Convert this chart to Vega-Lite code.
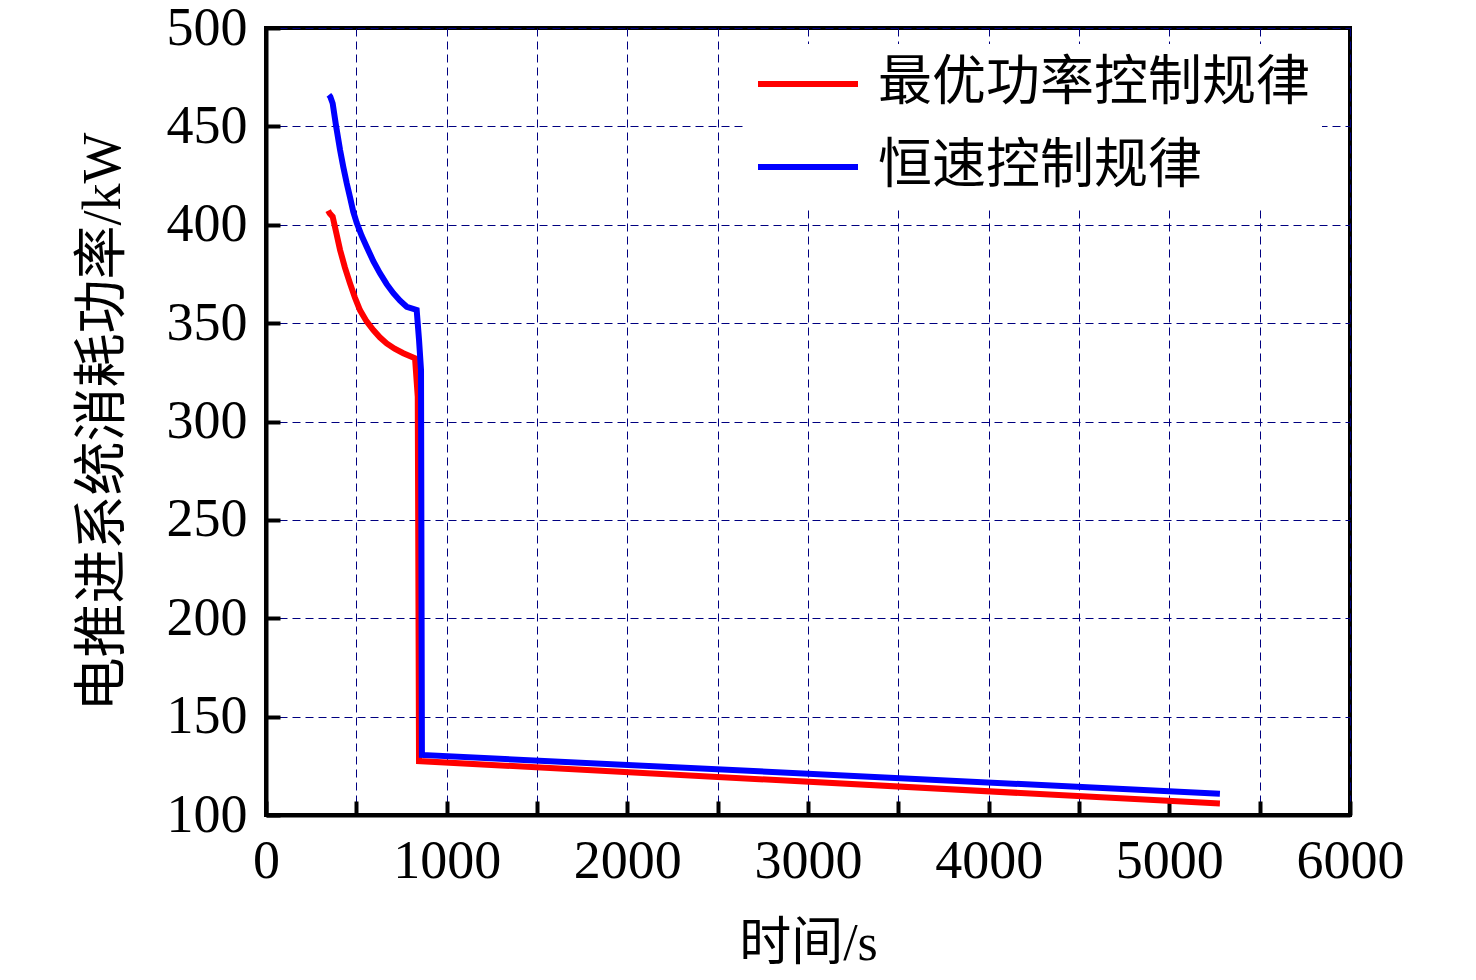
{
  "$schema": "https://vega.github.io/schema/vega-lite/v6.json",
  "width": 1084,
  "height": 787,
  "autosize": "none",
  "padding": {"left": 266, "top": 28, "right": 126, "bottom": 165},
  "background": "white",
  "data": {
    "values": [
      {"series": "最优功率控制规律", "t": 344, "p": 407.2},
      {"series": "最优功率控制规律", "t": 352, "p": 405.8},
      {"series": "最优功率控制规律", "t": 369, "p": 404.1},
      {"series": "最优功率控制规律", "t": 390, "p": 395.5},
      {"series": "最优功率控制规律", "t": 410, "p": 387.2},
      {"series": "最优功率控制规律", "t": 437, "p": 378.2},
      {"series": "最优功率控制规律", "t": 465, "p": 370.2},
      {"series": "最优功率控制规律", "t": 492, "p": 363},
      {"series": "最优功率控制规律", "t": 520, "p": 356.6},
      {"series": "最优功率控制规律", "t": 556, "p": 351},
      {"series": "最优功率控制规律", "t": 594, "p": 346.5},
      {"series": "最优功率控制规律", "t": 630, "p": 342.8},
      {"series": "最优功率控制规律", "t": 668, "p": 339.7},
      {"series": "最优功率控制规律", "t": 712, "p": 337},
      {"series": "最优功率控制规律", "t": 760, "p": 334.7},
      {"series": "最优功率控制规律", "t": 825, "p": 332.1},
      {"series": "最优功率控制规律", "t": 840, "p": 312.6},
      {"series": "最优功率控制规律", "t": 847, "p": 127.4},
      {"series": "最优功率控制规律", "t": 5280, "p": 105.8},
      {"series": "恒速控制规律", "t": 348, "p": 466},
      {"series": "恒速控制规律", "t": 356, "p": 465.1},
      {"series": "恒速控制规律", "t": 369, "p": 461.7},
      {"series": "恒速控制规律", "t": 387, "p": 450.7},
      {"series": "恒速控制规律", "t": 410, "p": 438},
      {"series": "恒速控制规律", "t": 428, "p": 429.3},
      {"series": "恒速控制规律", "t": 447, "p": 421},
      {"series": "恒速控制规律", "t": 465, "p": 414},
      {"series": "恒速控制规律", "t": 483, "p": 406.6},
      {"series": "恒速控制规律", "t": 502, "p": 401},
      {"series": "恒速控制规律", "t": 530, "p": 394.3},
      {"series": "恒速控制规律", "t": 557, "p": 388.8},
      {"series": "恒速控制规律", "t": 594, "p": 381.5},
      {"series": "恒速控制规律", "t": 631, "p": 375.3},
      {"series": "恒速控制规律", "t": 668, "p": 369.8},
      {"series": "恒速控制规律", "t": 705, "p": 365.2},
      {"series": "恒速控制规律", "t": 742, "p": 361.4},
      {"series": "恒速控制规律", "t": 779, "p": 358.3},
      {"series": "恒速控制规律", "t": 834, "p": 356.7},
      {"series": "恒速控制规律", "t": 847, "p": 341.5},
      {"series": "恒速控制规律", "t": 858, "p": 326.2},
      {"series": "恒速控制规律", "t": 863, "p": 130.5},
      {"series": "恒速控制规律", "t": 5280, "p": 110.8}
    ]
  },
  "mark": {"type": "line", "strokeWidth": 6, "strokeJoin": "miter"},
  "encoding": {
    "x": {
      "field": "t",
      "type": "quantitative",
      "title": "时间/s",
      "scale": {"domain": [0, 6000], "nice": false, "zero": false},
      "axis": {
        "values": [0, 500, 1000, 1500, 2000, 2500, 3000, 3500, 4000, 4500, 5000, 5500, 6000],
        "labelExpr": "datum.value % 1000 == 0 ? datum.label : ''",
        "format": "d",
        "labelFlush": false,
        "labelPadding": 33,
        "titlePadding": 30,
        "titleFontSize": 52
      }
    },
    "y": {
      "field": "p",
      "type": "quantitative",
      "title": "电推进系统消耗功率/kW",
      "scale": {"domain": [100, 500], "nice": false, "zero": false},
      "axis": {
        "values": [100, 150, 200, 250, 300, 350, 400, 450, 500],
        "labelFlush": false,
        "labelPadding": 33,
        "titlePadding": 36,
        "titleFontSize": 54
      }
    },
    "color": {
      "field": "series",
      "type": "nominal",
      "scale": {"domain": ["最优功率控制规律", "恒速控制规律"], "range": ["#ff0000", "#0000ff"]},
      "legend": {
        "title": null,
        "orient": "none",
        "legendX": 477,
        "legendY": 16,
        "fillColor": "white",
        "padding": 12,
        "symbolType": "stroke",
        "symbolSize": 10000,
        "symbolStrokeWidth": 6,
        "clipHeight": 56,
        "labelFontSize": 54,
        "labelFont": "Liberation Serif, Noto Sans CJK SC",
        "labelColor": "black",
        "labelOffset": 17,
        "rowPadding": 27,
        "labelLimit": 1000
      }
    }
  },
  "config": {
    "view": {"stroke": "black", "strokeWidth": 4},
    "axis": {
      "domainColor": "black",
      "domainWidth": 4,
      "tickColor": "black",
      "tickWidth": 4,
      "tickSize": -14,
      "grid": true,
      "gridColor": "#000080",
      "gridWidth": 1,
      "gridDash": [8, 5],
      "labelFont": "Liberation Serif",
      "labelFontSize": 54,
      "labelColor": "black",
      "titleFont": "Liberation Serif, Noto Sans CJK SC",
      "titleFontWeight": "normal",
      "titleColor": "black"
    }
  }
}
